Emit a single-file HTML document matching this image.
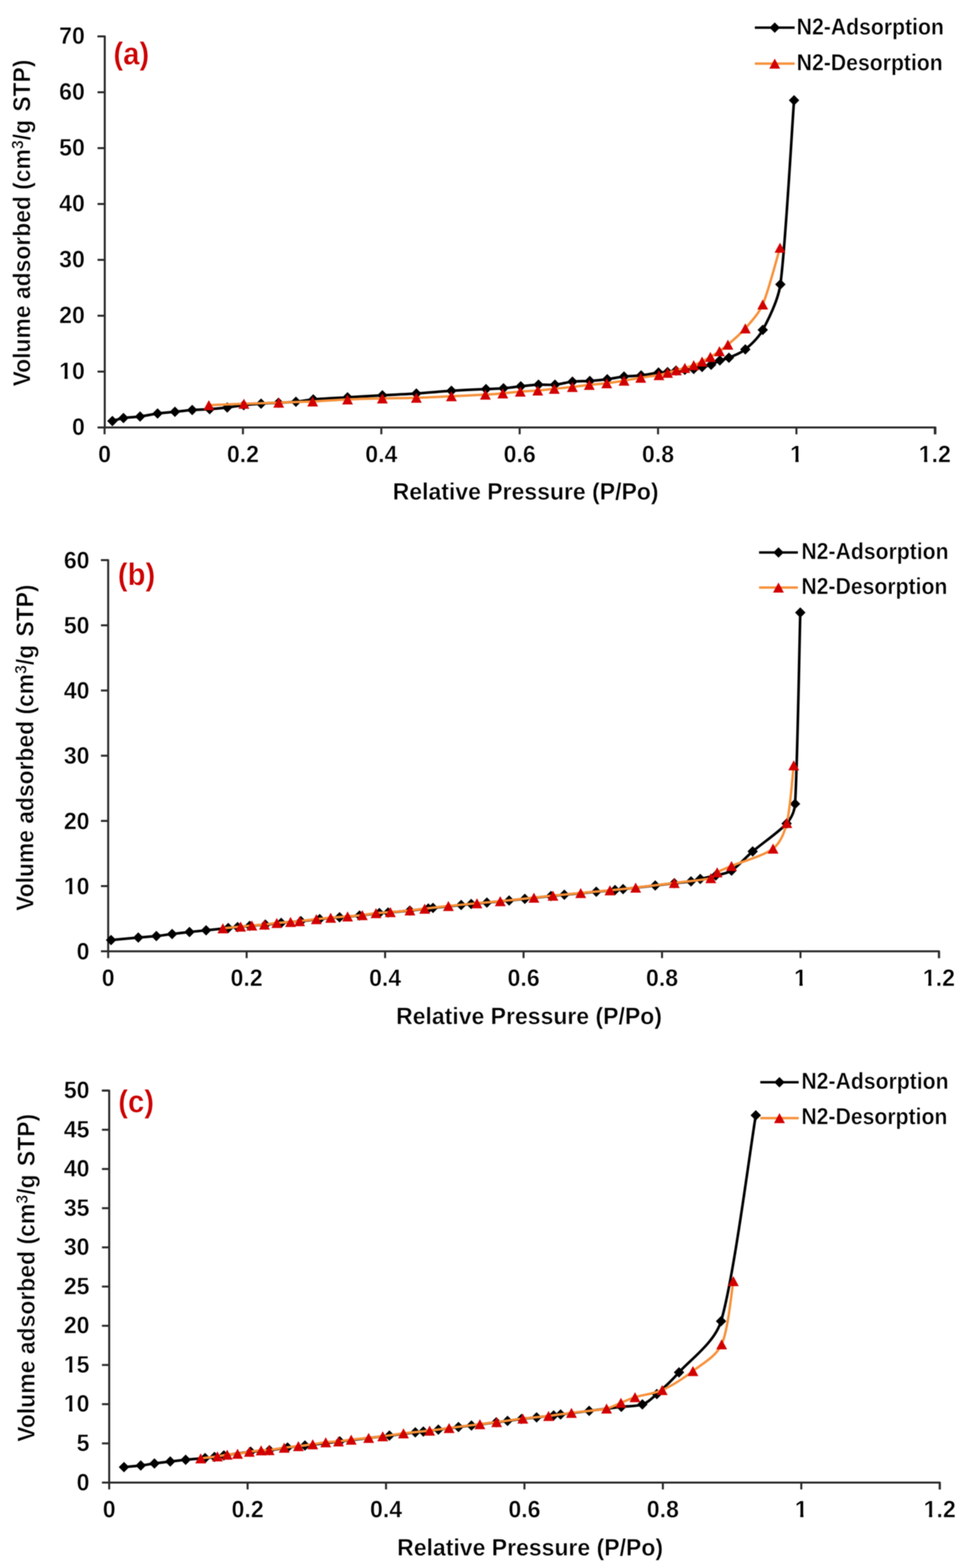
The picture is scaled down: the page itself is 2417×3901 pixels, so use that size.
<!DOCTYPE html>
<html><head><meta charset="utf-8"><title>N2 adsorption-desorption isotherms</title>
<style>
html,body{margin:0;padding:0;background:#fff;}
body{width:2417px;height:3901px;overflow:hidden;}
svg{display:block;filter:blur(1.3px);}
text{font-family:'Liberation Sans', Arial, sans-serif;font-weight:bold;fill:#000;stroke:#fff;stroke-width:0.9px;paint-order:normal;}
.tk{font-size:59px;stroke:#fff;stroke-width:1px;paint-order:normal;}
.tt{font-size:58.9px;}
.yt{font-size:60.4px;stroke-width:1.2px;}
.lg{font-size:57.3px;}
.lab{font-size:77.6px;fill:#CC0000;}
</style></head>
<body>
<svg width="2417" height="3901" viewBox="0 0 2417 3901">
<rect width="2417" height="3901" fill="#fff"/>
<path d="M242.5,90.5H260.5V1063.5H2326.0V1080.5" fill="none" stroke="#2a2a2a" stroke-width="5.0" stroke-linejoin="round"/>
<path d="M242.5,1063.5H260.5" stroke="#2a2a2a" stroke-width="5.0"/>
<text transform="translate(211.0,1081.9) scale(0.975,1)" class="tk" text-anchor="end">0</text>

<path d="M242.5,924.5H260.5" stroke="#2a2a2a" stroke-width="5.0"/>
<text transform="translate(211.0,942.9) scale(0.975,1)" class="tk" text-anchor="end">10</text>
<rect x="149.82" y="935.70" width="10.56" height="9.51" fill="#fff"/><rect x="168.39" y="935.70" width="9.80" height="9.51" fill="#fff"/>
<path d="M242.5,785.5H260.5" stroke="#2a2a2a" stroke-width="5.0"/>
<text transform="translate(211.0,803.9) scale(0.975,1)" class="tk" text-anchor="end">20</text>

<path d="M242.5,646.5H260.5" stroke="#2a2a2a" stroke-width="5.0"/>
<text transform="translate(211.0,664.9) scale(0.975,1)" class="tk" text-anchor="end">30</text>

<path d="M242.5,507.5H260.5" stroke="#2a2a2a" stroke-width="5.0"/>
<text transform="translate(211.0,525.9) scale(0.975,1)" class="tk" text-anchor="end">40</text>

<path d="M242.5,368.5H260.5" stroke="#2a2a2a" stroke-width="5.0"/>
<text transform="translate(211.0,386.9) scale(0.975,1)" class="tk" text-anchor="end">50</text>

<path d="M242.5,229.5H260.5" stroke="#2a2a2a" stroke-width="5.0"/>
<text transform="translate(211.0,247.9) scale(0.975,1)" class="tk" text-anchor="end">60</text>

<path d="M242.5,90.5H260.5" stroke="#2a2a2a" stroke-width="5.0"/>
<text transform="translate(211.0,108.9) scale(0.975,1)" class="tk" text-anchor="end">70</text>

<path d="M260.0,1063.5V1080.5" stroke="#2a2a2a" stroke-width="5.0"/>
<text transform="translate(260.0,1149.5) scale(0.975,1)" class="tk" text-anchor="middle">0</text>

<path d="M604.1,1063.5V1080.5" stroke="#2a2a2a" stroke-width="5.0"/>
<text transform="translate(604.1,1149.5) scale(0.975,1)" class="tk" text-anchor="middle">0.2</text>

<path d="M948.2,1063.5V1080.5" stroke="#2a2a2a" stroke-width="5.0"/>
<text transform="translate(948.2,1149.5) scale(0.975,1)" class="tk" text-anchor="middle">0.4</text>

<path d="M1292.2,1063.5V1080.5" stroke="#2a2a2a" stroke-width="5.0"/>
<text transform="translate(1292.2,1149.5) scale(0.975,1)" class="tk" text-anchor="middle">0.6</text>

<path d="M1636.3,1063.5V1080.5" stroke="#2a2a2a" stroke-width="5.0"/>
<text transform="translate(1636.3,1149.5) scale(0.975,1)" class="tk" text-anchor="middle">0.8</text>

<path d="M1980.4,1063.5V1080.5" stroke="#2a2a2a" stroke-width="5.0"/>
<text transform="translate(1980.4,1149.5) scale(0.975,1)" class="tk" text-anchor="middle">1</text>
<rect x="1967.21" y="1142.30" width="10.56" height="9.51" fill="#fff"/><rect x="1985.78" y="1142.30" width="9.80" height="9.51" fill="#fff"/>
<path d="M2324.5,1063.5V1080.5" stroke="#2a2a2a" stroke-width="5.0"/>
<text transform="translate(2324.5,1149.5) scale(0.975,1)" class="tk" text-anchor="middle">1.2</text>
<rect x="2287.31" y="1142.30" width="10.56" height="9.51" fill="#fff"/><rect x="2305.87" y="1142.30" width="9.80" height="9.51" fill="#fff"/>
<text transform="translate(976.4,1242.7) scale(0.971,1)" class="tt">Relative Pressure (P/Po)</text>
<text transform="translate(74.6,961.2) rotate(-90)" class="yt" textLength="813.0" lengthAdjust="spacingAndGlyphs">Volume adsorbed (cm<tspan dy="-17" font-size="42">3</tspan><tspan dy="17">/g</tspan><tspan dx="5"> STP)</tspan></text>
<text transform="translate(282.0,160.4) scale(0.940,1)" class="lab">(a)</text>
<path d="M1877.0,68.7H1976.0" stroke="#000" stroke-width="6"/>
<path d="M1926.5,55.7L1939.5,68.7L1926.5,81.7L1913.5,68.7Z" fill="#000"/>
<path d="M1877.0,158.3H1976.0" stroke="#F7913A" stroke-width="6"/>
<path d="M1926.5,145.8L1940.0,170.8L1913.0,170.8Z" fill="#D20000"/>
<text transform="translate(1981.1,86.2) scale(0.920,1)" class="lg">N2-Adsorption</text>
<text transform="translate(1981.1,175.0) scale(0.920,1)" class="lg">N2-Desorption</text>
<path d="M279.5,1047.5 C284.1,1046.2 297.6,1041.5 307.0,1040.0 C318.5,1038.1 334.6,1038.1 348.3,1036.3 C362.4,1034.4 377.4,1030.8 391.8,1028.8 C406.1,1026.8 420.6,1026.0 435.0,1024.5 C449.3,1023.0 463.6,1021.1 478.0,1020.0 C492.4,1018.9 506.9,1019.0 521.3,1018.0 C535.8,1017.0 550.9,1015.5 565.0,1013.8 C578.7,1012.2 592.3,1009.6 606.0,1008.0 C620.0,1006.4 634.8,1005.2 649.2,1004.2 C663.6,1003.2 678.1,1002.8 692.5,1002.0 C706.9,1001.2 721.4,1000.9 735.8,999.5 C750.2,998.1 764.5,994.9 779.0,993.7 C800.4,991.9 835.8,990.2 864.2,988.5 C892.8,986.8 922.3,985.1 950.8,983.5 C979.0,981.9 1007.2,980.8 1035.3,979.0 C1063.9,977.1 1093.6,974.1 1122.5,972.3 C1151.1,970.5 1186.9,969.0 1208.5,968.0 C1223.0,967.3 1237.6,967.2 1252.0,966.0 C1266.4,964.8 1280.6,962.5 1295.0,961.0 C1309.5,959.5 1324.8,957.7 1339.0,957.0 C1352.7,956.4 1366.4,958.2 1380.0,957.0 C1394.1,955.8 1409.0,951.0 1423.5,949.5 C1437.8,948.0 1452.3,948.7 1466.7,947.7 C1481.1,946.7 1495.8,945.3 1510.0,943.5 C1524.0,941.7 1537.7,938.4 1551.7,936.8 C1565.7,935.2 1580.1,935.6 1594.2,934.0 C1608.5,932.3 1626.5,928.2 1637.5,926.8 C1644.9,925.9 1652.8,926.6 1660.0,925.8 C1667.1,925.0 1674.0,923.0 1681.0,922.0 C1688.2,921.0 1695.7,920.7 1703.0,920.0 C1710.3,919.3 1717.9,919.2 1725.0,918.0 C1732.0,916.8 1738.9,914.7 1745.8,913.0 C1753.0,911.2 1761.1,910.2 1768.3,907.5 C1775.7,904.8 1782.6,899.6 1790.0,896.7 C1797.3,893.8 1805.3,893.1 1812.5,890.0 C1823.0,885.4 1841.5,878.9 1853.3,869.2 C1867.3,857.7 1886.4,839.9 1896.7,820.8 C1911.2,793.8 1935.0,747.6 1940.5,707.5 C1953.5,612.3 1968.8,325.9 1974.5,249.6" fill="none" stroke="#000" stroke-width="6.5" stroke-linejoin="round"/>
<path d="M279.5,1034.5L292.5,1047.5L279.5,1060.5L266.5,1047.5Z" fill="#000"/>
<path d="M307.0,1027.0L320.0,1040.0L307.0,1053.0L294.0,1040.0Z" fill="#000"/>
<path d="M348.3,1023.3L361.3,1036.3L348.3,1049.3L335.3,1036.3Z" fill="#000"/>
<path d="M391.8,1015.8L404.8,1028.8L391.8,1041.8L378.8,1028.8Z" fill="#000"/>
<path d="M435.0,1011.5L448.0,1024.5L435.0,1037.5L422.0,1024.5Z" fill="#000"/>
<path d="M478.0,1007.0L491.0,1020.0L478.0,1033.0L465.0,1020.0Z" fill="#000"/>
<path d="M521.3,1005.0L534.3,1018.0L521.3,1031.0L508.3,1018.0Z" fill="#000"/>
<path d="M565.0,1000.8L578.0,1013.8L565.0,1026.8L552.0,1013.8Z" fill="#000"/>
<path d="M606.0,995.0L619.0,1008.0L606.0,1021.0L593.0,1008.0Z" fill="#000"/>
<path d="M649.2,991.2L662.2,1004.2L649.2,1017.2L636.2,1004.2Z" fill="#000"/>
<path d="M692.5,989.0L705.5,1002.0L692.5,1015.0L679.5,1002.0Z" fill="#000"/>
<path d="M735.8,986.5L748.8,999.5L735.8,1012.5L722.8,999.5Z" fill="#000"/>
<path d="M779.0,980.7L792.0,993.7L779.0,1006.7L766.0,993.7Z" fill="#000"/>
<path d="M864.2,975.5L877.2,988.5L864.2,1001.5L851.2,988.5Z" fill="#000"/>
<path d="M950.8,970.5L963.8,983.5L950.8,996.5L937.8,983.5Z" fill="#000"/>
<path d="M1035.3,966.0L1048.3,979.0L1035.3,992.0L1022.3,979.0Z" fill="#000"/>
<path d="M1122.5,959.3L1135.5,972.3L1122.5,985.3L1109.5,972.3Z" fill="#000"/>
<path d="M1208.5,955.0L1221.5,968.0L1208.5,981.0L1195.5,968.0Z" fill="#000"/>
<path d="M1252.0,953.0L1265.0,966.0L1252.0,979.0L1239.0,966.0Z" fill="#000"/>
<path d="M1295.0,948.0L1308.0,961.0L1295.0,974.0L1282.0,961.0Z" fill="#000"/>
<path d="M1339.0,944.0L1352.0,957.0L1339.0,970.0L1326.0,957.0Z" fill="#000"/>
<path d="M1380.0,944.0L1393.0,957.0L1380.0,970.0L1367.0,957.0Z" fill="#000"/>
<path d="M1423.5,936.5L1436.5,949.5L1423.5,962.5L1410.5,949.5Z" fill="#000"/>
<path d="M1466.7,934.7L1479.7,947.7L1466.7,960.7L1453.7,947.7Z" fill="#000"/>
<path d="M1510.0,930.5L1523.0,943.5L1510.0,956.5L1497.0,943.5Z" fill="#000"/>
<path d="M1551.7,923.8L1564.7,936.8L1551.7,949.8L1538.7,936.8Z" fill="#000"/>
<path d="M1594.2,921.0L1607.2,934.0L1594.2,947.0L1581.2,934.0Z" fill="#000"/>
<path d="M1637.5,913.8L1650.5,926.8L1637.5,939.8L1624.5,926.8Z" fill="#000"/>
<path d="M1660.0,912.8L1673.0,925.8L1660.0,938.8L1647.0,925.8Z" fill="#000"/>
<path d="M1681.0,909.0L1694.0,922.0L1681.0,935.0L1668.0,922.0Z" fill="#000"/>
<path d="M1703.0,907.0L1716.0,920.0L1703.0,933.0L1690.0,920.0Z" fill="#000"/>
<path d="M1725.0,905.0L1738.0,918.0L1725.0,931.0L1712.0,918.0Z" fill="#000"/>
<path d="M1745.8,900.0L1758.8,913.0L1745.8,926.0L1732.8,913.0Z" fill="#000"/>
<path d="M1768.3,894.5L1781.3,907.5L1768.3,920.5L1755.3,907.5Z" fill="#000"/>
<path d="M1790.0,883.7L1803.0,896.7L1790.0,909.7L1777.0,896.7Z" fill="#000"/>
<path d="M1812.5,877.0L1825.5,890.0L1812.5,903.0L1799.5,890.0Z" fill="#000"/>
<path d="M1853.3,856.2L1866.3,869.2L1853.3,882.2L1840.3,869.2Z" fill="#000"/>
<path d="M1896.7,807.8L1909.7,820.8L1896.7,833.8L1883.7,820.8Z" fill="#000"/>
<path d="M1940.5,694.5L1953.5,707.5L1940.5,720.5L1927.5,707.5Z" fill="#000"/>
<path d="M1974.5,236.6L1987.5,249.6L1974.5,262.6L1961.5,249.6Z" fill="#000"/>
<path d="M1939.6,616.3 C1932.4,639.8 1911.0,724.1 1896.6,757.6 C1886.9,780.1 1867.7,800.4 1853.3,817.0 C1840.4,831.9 1820.7,848.0 1810.0,857.5 C1803.4,863.3 1796.2,868.6 1789.0,873.7 C1781.8,878.8 1773.7,883.7 1766.5,888.0 C1759.7,892.0 1752.7,896.1 1745.8,899.5 C1739.0,902.8 1732.1,905.9 1725.0,908.5 C1717.9,911.1 1710.2,913.2 1703.0,915.3 C1695.9,917.4 1688.8,919.2 1681.7,921.2 C1674.5,923.2 1667.2,925.5 1660.0,927.5 C1652.9,929.5 1645.8,931.9 1638.5,933.2 C1627.4,935.2 1607.8,937.4 1593.3,939.7 C1579.4,941.9 1565.6,944.7 1551.7,947.0 C1537.6,949.3 1523.1,951.8 1508.7,953.5 C1494.3,955.2 1479.5,956.0 1465.3,957.5 C1451.3,959.0 1437.3,961.2 1423.3,962.8 C1408.8,964.4 1392.6,965.8 1378.3,967.3 C1364.6,968.7 1350.9,970.4 1337.2,971.5 C1323.1,972.6 1308.2,973.0 1293.8,974.2 C1279.3,975.4 1264.8,977.4 1250.3,978.7 C1235.9,980.0 1221.4,981.0 1207.0,981.8 C1185.7,983.0 1150.7,984.5 1122.5,985.8 C1093.9,987.1 1063.9,988.7 1035.3,989.6 C1007.1,990.5 979.0,990.5 950.8,991.2 C922.3,991.9 893.1,992.5 864.2,993.7 C835.3,995.0 806.0,997.4 777.5,998.7 C749.3,1000.0 721.2,1000.7 693.0,1001.7 C664.5,1002.7 635.3,1003.5 606.5,1004.5 C577.5,1005.5 533.8,1007.4 519.3,1008.0" fill="none" stroke="#F7913A" stroke-width="6" stroke-linejoin="round"/>
<path d="M1939.6,603.8L1953.1,628.8L1926.1,628.8Z" fill="#D20000"/>
<path d="M1896.6,745.1L1910.1,770.1L1883.1,770.1Z" fill="#D20000"/>
<path d="M1853.3,804.5L1866.8,829.5L1839.8,829.5Z" fill="#D20000"/>
<path d="M1810.0,845.0L1823.5,870.0L1796.5,870.0Z" fill="#D20000"/>
<path d="M1789.0,861.2L1802.5,886.2L1775.5,886.2Z" fill="#D20000"/>
<path d="M1766.5,875.5L1780.0,900.5L1753.0,900.5Z" fill="#D20000"/>
<path d="M1745.8,887.0L1759.3,912.0L1732.3,912.0Z" fill="#D20000"/>
<path d="M1725.0,896.0L1738.5,921.0L1711.5,921.0Z" fill="#D20000"/>
<path d="M1703.0,902.8L1716.5,927.8L1689.5,927.8Z" fill="#D20000"/>
<path d="M1681.7,908.7L1695.2,933.7L1668.2,933.7Z" fill="#D20000"/>
<path d="M1660.0,915.0L1673.5,940.0L1646.5,940.0Z" fill="#D20000"/>
<path d="M1638.5,920.7L1652.0,945.7L1625.0,945.7Z" fill="#D20000"/>
<path d="M1593.3,927.2L1606.8,952.2L1579.8,952.2Z" fill="#D20000"/>
<path d="M1551.7,934.5L1565.2,959.5L1538.2,959.5Z" fill="#D20000"/>
<path d="M1508.7,941.0L1522.2,966.0L1495.2,966.0Z" fill="#D20000"/>
<path d="M1465.3,945.0L1478.8,970.0L1451.8,970.0Z" fill="#D20000"/>
<path d="M1423.3,950.3L1436.8,975.3L1409.8,975.3Z" fill="#D20000"/>
<path d="M1378.3,954.8L1391.8,979.8L1364.8,979.8Z" fill="#D20000"/>
<path d="M1337.2,959.0L1350.7,984.0L1323.7,984.0Z" fill="#D20000"/>
<path d="M1293.8,961.7L1307.3,986.7L1280.3,986.7Z" fill="#D20000"/>
<path d="M1250.3,966.2L1263.8,991.2L1236.8,991.2Z" fill="#D20000"/>
<path d="M1207.0,969.3L1220.5,994.3L1193.5,994.3Z" fill="#D20000"/>
<path d="M1122.5,973.3L1136.0,998.3L1109.0,998.3Z" fill="#D20000"/>
<path d="M1035.3,977.1L1048.8,1002.1L1021.8,1002.1Z" fill="#D20000"/>
<path d="M950.8,978.7L964.3,1003.7L937.3,1003.7Z" fill="#D20000"/>
<path d="M864.2,981.2L877.7,1006.2L850.7,1006.2Z" fill="#D20000"/>
<path d="M777.5,986.2L791.0,1011.2L764.0,1011.2Z" fill="#D20000"/>
<path d="M693.0,989.2L706.5,1014.2L679.5,1014.2Z" fill="#D20000"/>
<path d="M606.5,992.0L620.0,1017.0L593.0,1017.0Z" fill="#D20000"/>
<path d="M519.3,995.5L532.8,1020.5L505.8,1020.5Z" fill="#D20000"/>
<path d="M251.0,1393.6H269.0V2366.7H2335.0V2383.7" fill="none" stroke="#2a2a2a" stroke-width="5.0" stroke-linejoin="round"/>
<path d="M251.0,2366.7H269.0" stroke="#2a2a2a" stroke-width="5.0"/>
<text transform="translate(222.6,2387.0) scale(0.975,1)" class="tk" text-anchor="end">0</text>

<path d="M251.0,2204.5H269.0" stroke="#2a2a2a" stroke-width="5.0"/>
<text transform="translate(222.6,2224.8) scale(0.975,1)" class="tk" text-anchor="end">10</text>
<rect x="161.42" y="2217.60" width="10.56" height="9.51" fill="#fff"/><rect x="179.99" y="2217.60" width="9.80" height="9.51" fill="#fff"/>
<path d="M251.0,2042.3H269.0" stroke="#2a2a2a" stroke-width="5.0"/>
<text transform="translate(222.6,2062.6) scale(0.975,1)" class="tk" text-anchor="end">20</text>

<path d="M251.0,1880.1H269.0" stroke="#2a2a2a" stroke-width="5.0"/>
<text transform="translate(222.6,1900.4) scale(0.975,1)" class="tk" text-anchor="end">30</text>

<path d="M251.0,1717.9H269.0" stroke="#2a2a2a" stroke-width="5.0"/>
<text transform="translate(222.6,1738.2) scale(0.975,1)" class="tk" text-anchor="end">40</text>

<path d="M251.0,1555.7H269.0" stroke="#2a2a2a" stroke-width="5.0"/>
<text transform="translate(222.6,1576.0) scale(0.975,1)" class="tk" text-anchor="end">50</text>

<path d="M251.0,1393.5H269.0" stroke="#2a2a2a" stroke-width="5.0"/>
<text transform="translate(222.6,1413.8) scale(0.975,1)" class="tk" text-anchor="end">60</text>

<path d="M269.0,2366.7V2383.7" stroke="#2a2a2a" stroke-width="5.0"/>
<text transform="translate(269.0,2453.2) scale(0.975,1)" class="tk" text-anchor="middle">0</text>

<path d="M613.3,2366.7V2383.7" stroke="#2a2a2a" stroke-width="5.0"/>
<text transform="translate(613.3,2453.2) scale(0.975,1)" class="tk" text-anchor="middle">0.2</text>

<path d="M957.6,2366.7V2383.7" stroke="#2a2a2a" stroke-width="5.0"/>
<text transform="translate(957.6,2453.2) scale(0.975,1)" class="tk" text-anchor="middle">0.4</text>

<path d="M1301.9,2366.7V2383.7" stroke="#2a2a2a" stroke-width="5.0"/>
<text transform="translate(1301.9,2453.2) scale(0.975,1)" class="tk" text-anchor="middle">0.6</text>

<path d="M1646.2,2366.7V2383.7" stroke="#2a2a2a" stroke-width="5.0"/>
<text transform="translate(1646.2,2453.2) scale(0.975,1)" class="tk" text-anchor="middle">0.8</text>

<path d="M1990.5,2366.7V2383.7" stroke="#2a2a2a" stroke-width="5.0"/>
<text transform="translate(1990.5,2453.2) scale(0.975,1)" class="tk" text-anchor="middle">1</text>
<rect x="1977.31" y="2446.00" width="10.56" height="9.51" fill="#fff"/><rect x="1995.88" y="2446.00" width="9.80" height="9.51" fill="#fff"/>
<path d="M2334.8,2366.7V2383.7" stroke="#2a2a2a" stroke-width="5.0"/>
<text transform="translate(2334.8,2453.2) scale(0.975,1)" class="tk" text-anchor="middle">1.2</text>
<rect x="2297.63" y="2446.00" width="10.56" height="9.51" fill="#fff"/><rect x="2316.19" y="2446.00" width="9.80" height="9.51" fill="#fff"/>
<text transform="translate(984.9,2547.5) scale(0.971,1)" class="tt">Relative Pressure (P/Po)</text>
<text transform="translate(83.2,2266.2) rotate(-90)" class="yt" textLength="812.0" lengthAdjust="spacingAndGlyphs">Volume adsorbed (cm<tspan dy="-17" font-size="42">3</tspan><tspan dy="17">/g</tspan><tspan dx="5"> STP)</tspan></text>
<text transform="translate(293.0,1456.0) scale(0.940,1)" class="lab">(b)</text>
<path d="M1887.5,1374.4H1984.0" stroke="#000" stroke-width="6"/>
<path d="M1935.8,1361.4L1948.8,1374.4L1935.8,1387.4L1922.8,1374.4Z" fill="#000"/>
<path d="M1887.5,1461.7H1984.0" stroke="#F7913A" stroke-width="6"/>
<path d="M1935.8,1449.2L1949.2,1474.2L1922.2,1474.2Z" fill="#D20000"/>
<text transform="translate(1992.7,1391.2) scale(0.920,1)" class="lg">N2-Adsorption</text>
<text transform="translate(1992.7,1477.5) scale(0.920,1)" class="lg">N2-Desorption</text>
<path d="M276.2,2338.8 C287.5,2337.7 325.0,2334.2 343.8,2332.5 C358.7,2331.2 374.7,2330.2 388.8,2328.8 C401.9,2327.4 414.9,2325.3 428.0,2323.8 C441.8,2322.1 457.2,2320.3 471.2,2318.8 C485.0,2317.2 498.8,2315.9 512.5,2314.5 C528.5,2312.8 554.5,2310.1 567.5,2308.7 C575.3,2307.9 583.0,2307.3 590.8,2306.5 C599.7,2305.7 610.8,2304.4 620.8,2303.6 C632.3,2302.5 647.0,2301.7 660.0,2300.5 C673.1,2299.2 686.1,2297.2 699.2,2295.9 C713.9,2294.5 732.3,2293.4 748.3,2291.8 C763.9,2290.3 779.4,2288.0 795.0,2286.4 C811.0,2284.8 827.9,2283.5 844.3,2282.1 C860.8,2280.6 877.5,2279.6 894.0,2277.8 C910.5,2276.1 931.5,2272.9 943.3,2271.6 C950.5,2270.9 957.8,2270.8 965.0,2270.2 C977.6,2269.2 1002.3,2267.2 1019.0,2265.5 C1034.4,2264.0 1055.4,2261.3 1065.0,2260.2 C1068.9,2259.7 1072.8,2259.3 1076.7,2258.8 C1090.3,2257.4 1130.9,2253.1 1146.7,2251.5 C1155.0,2250.7 1163.4,2249.9 1171.7,2249.1 C1182.4,2248.2 1197.7,2246.8 1210.7,2245.5 C1226.4,2244.1 1250.3,2241.8 1266.0,2240.2 C1279.0,2238.9 1292.0,2237.5 1305.0,2236.2 C1322.3,2234.3 1353.6,2231.0 1370.0,2229.3 C1381.1,2228.2 1392.2,2227.1 1403.3,2226.1 C1422.1,2224.3 1461.7,2220.6 1482.7,2218.6 C1498.2,2217.2 1518.2,2215.3 1529.3,2214.2 C1536.0,2213.5 1542.6,2212.8 1549.3,2212.1 C1566.0,2210.2 1608.1,2205.4 1629.3,2202.9 C1645.1,2201.1 1661.9,2198.9 1676.7,2197.2 C1690.6,2195.6 1707.5,2194.4 1718.3,2192.7 C1726.1,2191.4 1733.6,2188.5 1741.3,2186.7 C1751.6,2184.2 1767.2,2181.4 1780.0,2178.0 C1793.0,2174.6 1807.6,2173.4 1819.0,2166.0 C1834.3,2156.1 1853.6,2133.7 1871.6,2118.3 C1894.4,2098.8 1938.4,2068.7 1956.0,2049.0 C1967.8,2035.7 1975.9,2017.7 1977.0,2000.0 C1982.7,1912.5 1987.8,1603.2 1990.0,1523.9" fill="none" stroke="#000" stroke-width="6.5" stroke-linejoin="round"/>
<path d="M276.2,2325.8L289.2,2338.8L276.2,2351.8L263.2,2338.8Z" fill="#000"/>
<path d="M343.8,2319.5L356.8,2332.5L343.8,2345.5L330.8,2332.5Z" fill="#000"/>
<path d="M388.8,2315.8L401.8,2328.8L388.8,2341.8L375.8,2328.8Z" fill="#000"/>
<path d="M428.0,2310.8L441.0,2323.8L428.0,2336.8L415.0,2323.8Z" fill="#000"/>
<path d="M471.2,2305.8L484.2,2318.8L471.2,2331.8L458.2,2318.8Z" fill="#000"/>
<path d="M512.5,2301.5L525.5,2314.5L512.5,2327.5L499.5,2314.5Z" fill="#000"/>
<path d="M567.5,2295.7L580.5,2308.7L567.5,2321.7L554.5,2308.7Z" fill="#000"/>
<path d="M590.8,2293.5L603.8,2306.5L590.8,2319.5L577.8,2306.5Z" fill="#000"/>
<path d="M620.8,2290.6L633.8,2303.6L620.8,2316.6L607.8,2303.6Z" fill="#000"/>
<path d="M660.0,2287.5L673.0,2300.5L660.0,2313.5L647.0,2300.5Z" fill="#000"/>
<path d="M699.2,2282.9L712.2,2295.9L699.2,2308.9L686.2,2295.9Z" fill="#000"/>
<path d="M748.3,2278.8L761.3,2291.8L748.3,2304.8L735.3,2291.8Z" fill="#000"/>
<path d="M795.0,2273.4L808.0,2286.4L795.0,2299.4L782.0,2286.4Z" fill="#000"/>
<path d="M844.3,2269.1L857.3,2282.1L844.3,2295.1L831.3,2282.1Z" fill="#000"/>
<path d="M894.0,2264.8L907.0,2277.8L894.0,2290.8L881.0,2277.8Z" fill="#000"/>
<path d="M943.3,2258.6L956.3,2271.6L943.3,2284.6L930.3,2271.6Z" fill="#000"/>
<path d="M965.0,2257.2L978.0,2270.2L965.0,2283.2L952.0,2270.2Z" fill="#000"/>
<path d="M1019.0,2252.5L1032.0,2265.5L1019.0,2278.5L1006.0,2265.5Z" fill="#000"/>
<path d="M1065.0,2247.2L1078.0,2260.2L1065.0,2273.2L1052.0,2260.2Z" fill="#000"/>
<path d="M1076.7,2245.8L1089.7,2258.8L1076.7,2271.8L1063.7,2258.8Z" fill="#000"/>
<path d="M1146.7,2238.5L1159.7,2251.5L1146.7,2264.5L1133.7,2251.5Z" fill="#000"/>
<path d="M1171.7,2236.1L1184.7,2249.1L1171.7,2262.1L1158.7,2249.1Z" fill="#000"/>
<path d="M1210.7,2232.5L1223.7,2245.5L1210.7,2258.5L1197.7,2245.5Z" fill="#000"/>
<path d="M1266.0,2227.2L1279.0,2240.2L1266.0,2253.2L1253.0,2240.2Z" fill="#000"/>
<path d="M1305.0,2223.2L1318.0,2236.2L1305.0,2249.2L1292.0,2236.2Z" fill="#000"/>
<path d="M1370.0,2216.3L1383.0,2229.3L1370.0,2242.3L1357.0,2229.3Z" fill="#000"/>
<path d="M1403.3,2213.1L1416.3,2226.1L1403.3,2239.1L1390.3,2226.1Z" fill="#000"/>
<path d="M1482.7,2205.6L1495.7,2218.6L1482.7,2231.6L1469.7,2218.6Z" fill="#000"/>
<path d="M1529.3,2201.2L1542.3,2214.2L1529.3,2227.2L1516.3,2214.2Z" fill="#000"/>
<path d="M1549.3,2199.1L1562.3,2212.1L1549.3,2225.1L1536.3,2212.1Z" fill="#000"/>
<path d="M1629.3,2189.9L1642.3,2202.9L1629.3,2215.9L1616.3,2202.9Z" fill="#000"/>
<path d="M1676.7,2184.2L1689.7,2197.2L1676.7,2210.2L1663.7,2197.2Z" fill="#000"/>
<path d="M1718.3,2179.7L1731.3,2192.7L1718.3,2205.7L1705.3,2192.7Z" fill="#000"/>
<path d="M1741.3,2173.7L1754.3,2186.7L1741.3,2199.7L1728.3,2186.7Z" fill="#000"/>
<path d="M1780.0,2165.0L1793.0,2178.0L1780.0,2191.0L1767.0,2178.0Z" fill="#000"/>
<path d="M1819.0,2153.0L1832.0,2166.0L1819.0,2179.0L1806.0,2166.0Z" fill="#000"/>
<path d="M1871.6,2105.3L1884.6,2118.3L1871.6,2131.3L1858.6,2118.3Z" fill="#000"/>
<path d="M1956.0,2036.0L1969.0,2049.0L1956.0,2062.0L1943.0,2049.0Z" fill="#000"/>
<path d="M1977.0,1987.0L1990.0,2000.0L1977.0,2013.0L1964.0,2000.0Z" fill="#000"/>
<path d="M1990.0,1510.9L2003.0,1523.9L1990.0,1536.9L1977.0,1523.9Z" fill="#000"/>
<path d="M1973.7,1903.9 C1970.8,1927.8 1965.1,2012.9 1956.5,2047.5 C1950.7,2070.9 1941.3,2096.5 1922.2,2111.3 C1899.3,2129.1 1842.2,2144.6 1819.0,2154.4 C1807.0,2159.5 1791.9,2165.2 1783.3,2170.3 C1777.1,2173.9 1774.4,2183.1 1767.5,2184.8 C1749.7,2189.2 1707.0,2192.9 1676.7,2196.7 C1645.6,2200.6 1607.4,2205.2 1580.7,2208.3 C1559.4,2210.7 1538.0,2212.9 1516.7,2215.0 C1493.9,2217.2 1467.6,2219.5 1444.0,2221.7 C1421.0,2223.9 1394.4,2226.4 1375.0,2228.3 C1359.2,2229.9 1343.5,2231.7 1327.7,2233.3 C1305.9,2235.6 1267.6,2239.7 1244.0,2242.0 C1224.7,2243.9 1205.3,2245.5 1186.0,2247.3 C1164.5,2249.3 1136.7,2251.8 1115.0,2254.0 C1095.3,2256.0 1072.0,2258.9 1056.0,2260.7 C1043.8,2262.1 1031.6,2263.8 1019.3,2265.0 C1005.1,2266.4 984.8,2268.2 970.7,2269.3 C958.8,2270.2 946.6,2270.5 935.0,2271.7 C923.6,2272.9 912.4,2275.4 901.0,2276.7 C889.2,2278.1 876.5,2279.0 864.3,2280.0 C851.2,2281.1 835.2,2282.2 822.3,2283.3 C810.4,2284.3 798.6,2285.4 786.7,2286.7 C773.8,2288.1 755.7,2290.5 745.0,2291.7 C737.5,2292.5 730.0,2293.1 722.5,2293.7 C713.0,2294.4 699.1,2295.1 688.3,2296.2 C678.0,2297.2 667.8,2299.3 657.5,2300.3 C647.2,2301.4 636.2,2301.7 626.3,2302.5 C617.0,2303.3 607.6,2304.4 598.3,2305.3 C586.3,2306.5 561.6,2308.8 554.2,2309.5" fill="none" stroke="#F7913A" stroke-width="6" stroke-linejoin="round"/>
<path d="M1973.7,1891.4L1987.2,1916.4L1960.2,1916.4Z" fill="#D20000"/>
<path d="M1956.5,2035.0L1970.0,2060.0L1943.0,2060.0Z" fill="#D20000"/>
<path d="M1922.2,2098.8L1935.7,2123.8L1908.7,2123.8Z" fill="#D20000"/>
<path d="M1819.0,2141.9L1832.5,2166.9L1805.5,2166.9Z" fill="#D20000"/>
<path d="M1783.3,2157.8L1796.8,2182.8L1769.8,2182.8Z" fill="#D20000"/>
<path d="M1767.5,2172.3L1781.0,2197.3L1754.0,2197.3Z" fill="#D20000"/>
<path d="M1676.7,2184.2L1690.2,2209.2L1663.2,2209.2Z" fill="#D20000"/>
<path d="M1580.7,2195.8L1594.2,2220.8L1567.2,2220.8Z" fill="#D20000"/>
<path d="M1516.7,2202.5L1530.2,2227.5L1503.2,2227.5Z" fill="#D20000"/>
<path d="M1444.0,2209.2L1457.5,2234.2L1430.5,2234.2Z" fill="#D20000"/>
<path d="M1375.0,2215.8L1388.5,2240.8L1361.5,2240.8Z" fill="#D20000"/>
<path d="M1327.7,2220.8L1341.2,2245.8L1314.2,2245.8Z" fill="#D20000"/>
<path d="M1244.0,2229.5L1257.5,2254.5L1230.5,2254.5Z" fill="#D20000"/>
<path d="M1186.0,2234.8L1199.5,2259.8L1172.5,2259.8Z" fill="#D20000"/>
<path d="M1115.0,2241.5L1128.5,2266.5L1101.5,2266.5Z" fill="#D20000"/>
<path d="M1056.0,2248.2L1069.5,2273.2L1042.5,2273.2Z" fill="#D20000"/>
<path d="M1019.3,2252.5L1032.8,2277.5L1005.8,2277.5Z" fill="#D20000"/>
<path d="M970.7,2256.8L984.2,2281.8L957.2,2281.8Z" fill="#D20000"/>
<path d="M935.0,2259.2L948.5,2284.2L921.5,2284.2Z" fill="#D20000"/>
<path d="M901.0,2264.2L914.5,2289.2L887.5,2289.2Z" fill="#D20000"/>
<path d="M864.3,2267.5L877.8,2292.5L850.8,2292.5Z" fill="#D20000"/>
<path d="M822.3,2270.8L835.8,2295.8L808.8,2295.8Z" fill="#D20000"/>
<path d="M786.7,2274.2L800.2,2299.2L773.2,2299.2Z" fill="#D20000"/>
<path d="M745.0,2279.2L758.5,2304.2L731.5,2304.2Z" fill="#D20000"/>
<path d="M722.5,2281.2L736.0,2306.2L709.0,2306.2Z" fill="#D20000"/>
<path d="M688.3,2283.7L701.8,2308.7L674.8,2308.7Z" fill="#D20000"/>
<path d="M657.5,2287.8L671.0,2312.8L644.0,2312.8Z" fill="#D20000"/>
<path d="M626.3,2290.0L639.8,2315.0L612.8,2315.0Z" fill="#D20000"/>
<path d="M598.3,2292.8L611.8,2317.8L584.8,2317.8Z" fill="#D20000"/>
<path d="M554.2,2297.0L567.7,2322.0L540.7,2322.0Z" fill="#D20000"/>
<path d="M253.5,2713.2H271.5V3688.5H2337.0V3705.5" fill="none" stroke="#2a2a2a" stroke-width="5.0" stroke-linejoin="round"/>
<path d="M253.5,3688.5H271.5" stroke="#2a2a2a" stroke-width="5.0"/>
<text transform="translate(222.6,3707.5) scale(0.975,1)" class="tk" text-anchor="end">0</text>

<path d="M253.5,3591.0H271.5" stroke="#2a2a2a" stroke-width="5.0"/>
<text transform="translate(222.6,3610.0) scale(0.975,1)" class="tk" text-anchor="end">5</text>

<path d="M253.5,3493.4H271.5" stroke="#2a2a2a" stroke-width="5.0"/>
<text transform="translate(222.6,3512.4) scale(0.975,1)" class="tk" text-anchor="end">10</text>
<rect x="161.42" y="3505.24" width="10.56" height="9.51" fill="#fff"/><rect x="179.99" y="3505.24" width="9.80" height="9.51" fill="#fff"/>
<path d="M253.5,3395.9H271.5" stroke="#2a2a2a" stroke-width="5.0"/>
<text transform="translate(222.6,3414.9) scale(0.975,1)" class="tk" text-anchor="end">15</text>
<rect x="161.42" y="3407.71" width="10.56" height="9.51" fill="#fff"/><rect x="179.99" y="3407.71" width="9.80" height="9.51" fill="#fff"/>
<path d="M253.5,3298.4H271.5" stroke="#2a2a2a" stroke-width="5.0"/>
<text transform="translate(222.6,3317.4) scale(0.975,1)" class="tk" text-anchor="end">20</text>

<path d="M253.5,3200.8H271.5" stroke="#2a2a2a" stroke-width="5.0"/>
<text transform="translate(222.6,3219.8) scale(0.975,1)" class="tk" text-anchor="end">25</text>

<path d="M253.5,3103.3H271.5" stroke="#2a2a2a" stroke-width="5.0"/>
<text transform="translate(222.6,3122.3) scale(0.975,1)" class="tk" text-anchor="end">30</text>

<path d="M253.5,3005.8H271.5" stroke="#2a2a2a" stroke-width="5.0"/>
<text transform="translate(222.6,3024.8) scale(0.975,1)" class="tk" text-anchor="end">35</text>

<path d="M253.5,2908.3H271.5" stroke="#2a2a2a" stroke-width="5.0"/>
<text transform="translate(222.6,2927.3) scale(0.975,1)" class="tk" text-anchor="end">40</text>

<path d="M253.5,2810.7H271.5" stroke="#2a2a2a" stroke-width="5.0"/>
<text transform="translate(222.6,2829.7) scale(0.975,1)" class="tk" text-anchor="end">45</text>

<path d="M253.5,2713.2H271.5" stroke="#2a2a2a" stroke-width="5.0"/>
<text transform="translate(222.6,2732.2) scale(0.975,1)" class="tk" text-anchor="end">50</text>

<path d="M271.5,3688.5V3705.5" stroke="#2a2a2a" stroke-width="5.0"/>
<text transform="translate(271.5,3775.0) scale(0.975,1)" class="tk" text-anchor="middle">0</text>

<path d="M615.7,3688.5V3705.5" stroke="#2a2a2a" stroke-width="5.0"/>
<text transform="translate(615.7,3775.0) scale(0.975,1)" class="tk" text-anchor="middle">0.2</text>

<path d="M959.9,3688.5V3705.5" stroke="#2a2a2a" stroke-width="5.0"/>
<text transform="translate(959.9,3775.0) scale(0.975,1)" class="tk" text-anchor="middle">0.4</text>

<path d="M1304.1,3688.5V3705.5" stroke="#2a2a2a" stroke-width="5.0"/>
<text transform="translate(1304.1,3775.0) scale(0.975,1)" class="tk" text-anchor="middle">0.6</text>

<path d="M1648.3,3688.5V3705.5" stroke="#2a2a2a" stroke-width="5.0"/>
<text transform="translate(1648.3,3775.0) scale(0.975,1)" class="tk" text-anchor="middle">0.8</text>

<path d="M1992.5,3688.5V3705.5" stroke="#2a2a2a" stroke-width="5.0"/>
<text transform="translate(1992.5,3775.0) scale(0.975,1)" class="tk" text-anchor="middle">1</text>
<rect x="1979.31" y="3767.80" width="10.56" height="9.51" fill="#fff"/><rect x="1997.88" y="3767.80" width="9.80" height="9.51" fill="#fff"/>
<path d="M2336.7,3688.5V3705.5" stroke="#2a2a2a" stroke-width="5.0"/>
<text transform="translate(2336.7,3775.0) scale(0.975,1)" class="tk" text-anchor="middle">1.2</text>
<rect x="2299.53" y="3767.80" width="10.56" height="9.51" fill="#fff"/><rect x="2318.09" y="3767.80" width="9.80" height="9.51" fill="#fff"/>
<text transform="translate(987.6,3869.5) scale(0.971,1)" class="tt">Relative Pressure (P/Po)</text>
<text transform="translate(85.9,3587.1) rotate(-90)" class="yt" textLength="816.0" lengthAdjust="spacingAndGlyphs">Volume adsorbed (cm<tspan dy="-17" font-size="42">3</tspan><tspan dy="17">/g</tspan><tspan dx="5"> STP)</tspan></text>
<text transform="translate(294.0,2767.0) scale(0.940,1)" class="lab">(c)</text>
<path d="M1890.5,2692.5H1986.0" stroke="#000" stroke-width="6"/>
<path d="M1938.2,2679.5L1951.2,2692.5L1938.2,2705.5L1925.2,2692.5Z" fill="#000"/>
<path d="M1890.5,2781.7H1986.0" stroke="#F7913A" stroke-width="6"/>
<path d="M1938.2,2769.2L1951.8,2794.2L1924.8,2794.2Z" fill="#D20000"/>
<text transform="translate(1992.7,2709.4) scale(0.920,1)" class="lg">N2-Adsorption</text>
<text transform="translate(1992.7,2796.7) scale(0.920,1)" class="lg">N2-Desorption</text>
<path d="M308.3,3650.0 C315.2,3649.3 337.4,3647.5 350.0,3646.0 C361.4,3644.6 372.6,3642.5 384.0,3641.0 C396.2,3639.3 410.4,3637.6 423.3,3636.0 C436.1,3634.5 448.9,3633.0 461.7,3631.7 C476.1,3630.3 498.1,3628.6 510.0,3627.5 C517.8,3626.7 525.6,3625.8 533.3,3624.7 C541.1,3623.6 548.9,3622.1 556.7,3621.0 C571.7,3618.8 604.4,3614.0 623.3,3611.8 C638.8,3610.1 654.7,3609.8 670.0,3608.1 C685.1,3606.4 700.3,3603.3 715.0,3601.3 C729.4,3599.4 743.9,3597.9 758.3,3596.2 C780.0,3593.7 816.1,3589.5 845.0,3586.1 C880.0,3581.9 937.0,3575.2 968.3,3571.5 C989.8,3568.9 1018.6,3565.1 1032.7,3563.5 C1039.4,3562.7 1046.0,3562.2 1052.7,3561.4 C1062.2,3560.3 1077.6,3558.4 1090.0,3556.8 C1104.5,3555.0 1126.3,3552.1 1140.0,3550.3 C1150.8,3549.0 1161.5,3547.7 1172.3,3546.4 C1188.0,3544.4 1219.0,3540.5 1234.0,3538.6 C1243.3,3537.4 1252.7,3536.1 1262.0,3534.9 C1272.5,3533.5 1285.1,3531.6 1296.7,3530.2 C1308.8,3528.8 1321.8,3527.6 1334.3,3526.3 C1347.6,3524.8 1366.8,3522.7 1376.7,3521.5 C1382.5,3520.8 1388.2,3519.9 1394.0,3519.1 C1408.7,3517.3 1441.3,3513.1 1465.0,3510.1 C1490.2,3506.9 1523.0,3502.7 1545.0,3500.0 C1562.4,3497.9 1582.6,3499.3 1597.3,3494.0 C1611.2,3489.0 1622.2,3478.0 1633.3,3468.3 C1648.5,3455.0 1671.5,3433.5 1688.5,3414.2 C1715.1,3384.0 1777.3,3339.6 1793.0,3287.0 C1824.8,3180.4 1865.0,2860.2 1879.4,2774.8" fill="none" stroke="#000" stroke-width="6.5" stroke-linejoin="round"/>
<path d="M308.3,3637.0L321.3,3650.0L308.3,3663.0L295.3,3650.0Z" fill="#000"/>
<path d="M350.0,3633.0L363.0,3646.0L350.0,3659.0L337.0,3646.0Z" fill="#000"/>
<path d="M384.0,3628.0L397.0,3641.0L384.0,3654.0L371.0,3641.0Z" fill="#000"/>
<path d="M423.3,3623.0L436.3,3636.0L423.3,3649.0L410.3,3636.0Z" fill="#000"/>
<path d="M461.7,3618.7L474.7,3631.7L461.7,3644.7L448.7,3631.7Z" fill="#000"/>
<path d="M510.0,3614.5L523.0,3627.5L510.0,3640.5L497.0,3627.5Z" fill="#000"/>
<path d="M533.3,3611.7L546.3,3624.7L533.3,3637.7L520.3,3624.7Z" fill="#000"/>
<path d="M556.7,3608.0L569.7,3621.0L556.7,3634.0L543.7,3621.0Z" fill="#000"/>
<path d="M623.3,3598.8L636.3,3611.8L623.3,3624.8L610.3,3611.8Z" fill="#000"/>
<path d="M670.0,3595.1L683.0,3608.1L670.0,3621.1L657.0,3608.1Z" fill="#000"/>
<path d="M715.0,3588.3L728.0,3601.3L715.0,3614.3L702.0,3601.3Z" fill="#000"/>
<path d="M758.3,3583.2L771.3,3596.2L758.3,3609.2L745.3,3596.2Z" fill="#000"/>
<path d="M845.0,3573.1L858.0,3586.1L845.0,3599.1L832.0,3586.1Z" fill="#000"/>
<path d="M968.3,3558.5L981.3,3571.5L968.3,3584.5L955.3,3571.5Z" fill="#000"/>
<path d="M1032.7,3550.5L1045.7,3563.5L1032.7,3576.5L1019.7,3563.5Z" fill="#000"/>
<path d="M1052.7,3548.4L1065.7,3561.4L1052.7,3574.4L1039.7,3561.4Z" fill="#000"/>
<path d="M1090.0,3543.8L1103.0,3556.8L1090.0,3569.8L1077.0,3556.8Z" fill="#000"/>
<path d="M1140.0,3537.3L1153.0,3550.3L1140.0,3563.3L1127.0,3550.3Z" fill="#000"/>
<path d="M1172.3,3533.4L1185.3,3546.4L1172.3,3559.4L1159.3,3546.4Z" fill="#000"/>
<path d="M1234.0,3525.6L1247.0,3538.6L1234.0,3551.6L1221.0,3538.6Z" fill="#000"/>
<path d="M1262.0,3521.9L1275.0,3534.9L1262.0,3547.9L1249.0,3534.9Z" fill="#000"/>
<path d="M1296.7,3517.2L1309.7,3530.2L1296.7,3543.2L1283.7,3530.2Z" fill="#000"/>
<path d="M1334.3,3513.3L1347.3,3526.3L1334.3,3539.3L1321.3,3526.3Z" fill="#000"/>
<path d="M1376.7,3508.5L1389.7,3521.5L1376.7,3534.5L1363.7,3521.5Z" fill="#000"/>
<path d="M1394.0,3506.1L1407.0,3519.1L1394.0,3532.1L1381.0,3519.1Z" fill="#000"/>
<path d="M1465.0,3497.1L1478.0,3510.1L1465.0,3523.1L1452.0,3510.1Z" fill="#000"/>
<path d="M1545.0,3487.0L1558.0,3500.0L1545.0,3513.0L1532.0,3500.0Z" fill="#000"/>
<path d="M1597.3,3481.0L1610.3,3494.0L1597.3,3507.0L1584.3,3494.0Z" fill="#000"/>
<path d="M1633.3,3455.3L1646.3,3468.3L1633.3,3481.3L1620.3,3468.3Z" fill="#000"/>
<path d="M1688.5,3401.2L1701.5,3414.2L1688.5,3427.2L1675.5,3414.2Z" fill="#000"/>
<path d="M1793.0,3274.0L1806.0,3287.0L1793.0,3300.0L1780.0,3287.0Z" fill="#000"/>
<path d="M1879.4,2761.8L1892.4,2774.8L1879.4,2787.8L1866.4,2774.8Z" fill="#000"/>
<path d="M1823.6,3187.3 C1818.8,3213.5 1811.3,3307.2 1794.5,3344.5 C1781.2,3374.2 1747.6,3392.0 1723.0,3411.0 C1699.3,3429.3 1670.7,3447.5 1646.7,3458.3 C1625.4,3467.9 1596.1,3470.7 1579.0,3476.0 C1567.0,3479.7 1555.7,3485.3 1544.0,3490.0 C1532.2,3494.7 1520.9,3501.7 1508.3,3504.3 C1487.8,3508.5 1445.0,3511.9 1421.0,3515.0 C1402.0,3517.4 1383.0,3520.4 1364.0,3522.7 C1343.8,3525.1 1321.3,3526.8 1300.0,3529.3 C1278.5,3531.9 1252.8,3535.7 1235.0,3538.0 C1221.1,3539.8 1207.2,3541.6 1193.3,3543.3 C1173.6,3545.8 1137.5,3550.0 1116.7,3552.7 C1100.5,3554.8 1084.5,3557.4 1068.3,3559.3 C1049.4,3561.5 1022.7,3563.7 1003.3,3566.0 C986.1,3568.1 966.1,3571.4 951.7,3573.3 C940.1,3574.8 928.4,3576.0 916.7,3577.3 C903.6,3578.7 885.8,3580.2 873.3,3581.7 C862.7,3582.9 852.2,3584.9 841.7,3586.0 C831.2,3587.1 820.5,3587.1 810.0,3588.3 C799.3,3589.5 788.5,3591.8 777.7,3593.3 C766.4,3594.9 753.8,3596.4 742.0,3597.8 C730.2,3599.2 718.4,3600.1 706.7,3601.7 C694.6,3603.3 678.9,3606.6 669.3,3607.7 C662.7,3608.5 655.9,3607.8 649.3,3608.3 C641.1,3609.0 629.7,3610.3 620.0,3611.7 C610.2,3613.1 599.9,3615.5 590.7,3616.7 C582.2,3617.8 573.3,3617.9 565.0,3619.0 C556.8,3620.1 548.8,3622.2 540.7,3623.3 C529.7,3624.9 505.9,3627.5 499.0,3628.3" fill="none" stroke="#F7913A" stroke-width="6" stroke-linejoin="round"/>
<path d="M1823.6,3174.8L1837.1,3199.8L1810.1,3199.8Z" fill="#D20000"/>
<path d="M1794.5,3332.0L1808.0,3357.0L1781.0,3357.0Z" fill="#D20000"/>
<path d="M1723.0,3398.5L1736.5,3423.5L1709.5,3423.5Z" fill="#D20000"/>
<path d="M1646.7,3445.8L1660.2,3470.8L1633.2,3470.8Z" fill="#D20000"/>
<path d="M1579.0,3463.5L1592.5,3488.5L1565.5,3488.5Z" fill="#D20000"/>
<path d="M1544.0,3477.5L1557.5,3502.5L1530.5,3502.5Z" fill="#D20000"/>
<path d="M1508.3,3491.8L1521.8,3516.8L1494.8,3516.8Z" fill="#D20000"/>
<path d="M1421.0,3502.5L1434.5,3527.5L1407.5,3527.5Z" fill="#D20000"/>
<path d="M1364.0,3510.2L1377.5,3535.2L1350.5,3535.2Z" fill="#D20000"/>
<path d="M1300.0,3516.8L1313.5,3541.8L1286.5,3541.8Z" fill="#D20000"/>
<path d="M1235.0,3525.5L1248.5,3550.5L1221.5,3550.5Z" fill="#D20000"/>
<path d="M1193.3,3530.8L1206.8,3555.8L1179.8,3555.8Z" fill="#D20000"/>
<path d="M1116.7,3540.2L1130.2,3565.2L1103.2,3565.2Z" fill="#D20000"/>
<path d="M1068.3,3546.8L1081.8,3571.8L1054.8,3571.8Z" fill="#D20000"/>
<path d="M1003.3,3553.5L1016.8,3578.5L989.8,3578.5Z" fill="#D20000"/>
<path d="M951.7,3560.8L965.2,3585.8L938.2,3585.8Z" fill="#D20000"/>
<path d="M916.7,3564.8L930.2,3589.8L903.2,3589.8Z" fill="#D20000"/>
<path d="M873.3,3569.2L886.8,3594.2L859.8,3594.2Z" fill="#D20000"/>
<path d="M841.7,3573.5L855.2,3598.5L828.2,3598.5Z" fill="#D20000"/>
<path d="M810.0,3575.8L823.5,3600.8L796.5,3600.8Z" fill="#D20000"/>
<path d="M777.7,3580.8L791.2,3605.8L764.2,3605.8Z" fill="#D20000"/>
<path d="M742.0,3585.3L755.5,3610.3L728.5,3610.3Z" fill="#D20000"/>
<path d="M706.7,3589.2L720.2,3614.2L693.2,3614.2Z" fill="#D20000"/>
<path d="M669.3,3595.2L682.8,3620.2L655.8,3620.2Z" fill="#D20000"/>
<path d="M649.3,3595.8L662.8,3620.8L635.8,3620.8Z" fill="#D20000"/>
<path d="M620.0,3599.2L633.5,3624.2L606.5,3624.2Z" fill="#D20000"/>
<path d="M590.7,3604.2L604.2,3629.2L577.2,3629.2Z" fill="#D20000"/>
<path d="M565.0,3606.5L578.5,3631.5L551.5,3631.5Z" fill="#D20000"/>
<path d="M540.7,3610.8L554.2,3635.8L527.2,3635.8Z" fill="#D20000"/>
<path d="M499.0,3615.8L512.5,3640.8L485.5,3640.8Z" fill="#D20000"/>
</svg>
</body></html>
